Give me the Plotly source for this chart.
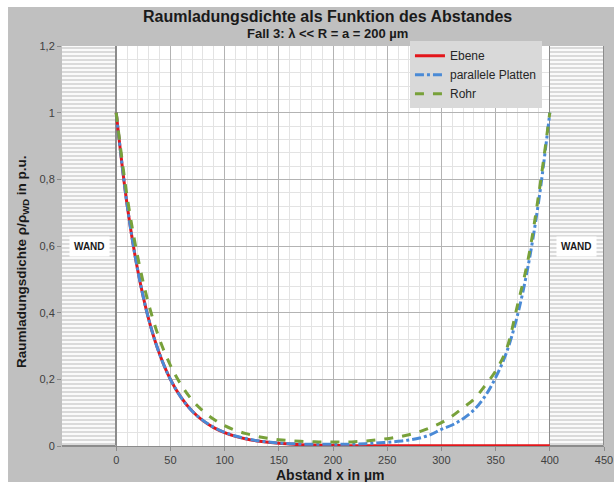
import plotly.graph_objects as go

# ---- data ----
x_um = [0, 10, 20, 30, 40, 50, 60, 70, 80, 90, 100, 110, 120, 130, 140, 150, 160, 170, 180, 190,
        200, 210, 220, 230, 240, 250, 260, 270, 280, 290, 300, 310, 320, 330, 340, 350, 360, 370,
        380, 390, 400]

ebene = [1.0, 0.725, 0.525, 0.38, 0.276, 0.2, 0.145, 0.105, 0.076, 0.055, 0.04, 0.029, 0.021,
         0.015, 0.011, 0.008, 0.006, 0.004, 0.003, 0.002, 0.002, 0.001, 0.001, 0.001, 0.001,
         0.001, 0.001, 0.001, 0.001, 0.001, 0.001, 0.001, 0.001, 0.001, 0.001, 0.001, 0.001,
         0.001, 0.001, 0.001, 0.001]

parallele_platten = [1.0, 0.725, 0.525, 0.38, 0.276, 0.2, 0.145, 0.105, 0.077, 0.056, 0.041,
                     0.03, 0.022, 0.016, 0.012, 0.009, 0.007, 0.006, 0.005, 0.005, 0.005, 0.005,
                     0.006, 0.007, 0.009, 0.011, 0.014, 0.018, 0.024, 0.034, 0.05, 0.063, 0.082,
                     0.108, 0.148, 0.205, 0.28, 0.39, 0.54, 0.74, 1.0]

rohr = [1.0, 0.75, 0.565, 0.425, 0.32, 0.242, 0.183, 0.138, 0.105, 0.08, 0.061, 0.047, 0.037,
        0.029, 0.023, 0.019, 0.016, 0.014, 0.013, 0.012, 0.012, 0.012, 0.013, 0.015, 0.018,
        0.022, 0.027, 0.034, 0.043, 0.055, 0.07, 0.09, 0.115, 0.14, 0.18, 0.225, 0.29, 0.42,
        0.56, 0.76, 1.0]

wall_x = [-25, 425]
wall_height = [1.2, 1.2]
wall_width = [50, 50]

x_tickvals = [0, 50, 100, 150, 200, 250, 300, 350, 400, 450]
x_ticktext = ["0", "50", "100", "150", "200", "250", "300", "350", "400", "450"]
y_tickvals = [0, 0.2, 0.4, 0.6, 0.8, 1.0, 1.2]
y_ticktext = ["0", "0,2", "0,4", "0,6", "0,8", "1", "1,2"]

FONT = "Liberation Sans, Arial, sans-serif"

fig = go.Figure()

# hatched wall regions
fig.add_trace(go.Bar(
    x=wall_x, y=wall_height, width=wall_width, base=0,
    marker=dict(color="white",
                line=dict(color="#8c8c8c", width=1),
                pattern=dict(shape="-", fgcolor="#a9a9a9", bgcolor="#fafafa", size=4, solidity=0.4)),
    showlegend=False, hoverinfo="skip"))

fig.add_trace(go.Scatter(x=x_um, y=ebene, name="Ebene", mode="lines",
                         line=dict(color="#e3161b", width=3, shape="spline")))
fig.add_trace(go.Scatter(x=x_um, y=parallele_platten, name="parallele Platten", mode="lines",
                         line=dict(color="#4a8ad6", width=3, dash="dashdot", shape="spline")))
fig.add_trace(go.Scatter(x=x_um, y=rohr, name="Rohr", mode="lines",
                         line=dict(color="#78a13a", width=3, dash="dash", shape="spline")))

fig.update_layout(
    width=614, height=482,
    margin=dict(l=62, r=10, t=46, b=36, autoexpand=False),
    paper_bgcolor="#c0c0c0",
    plot_bgcolor="white",
    font=dict(family=FONT, size=11, color="#404040"),
    barmode="overlay",
    bargap=0,
    legend=dict(x=0.642, y=1.012, xanchor="left", yanchor="top",
                bgcolor="#d9d9d9", borderwidth=0,
                font=dict(family=FONT, size=12, color="#262626"),
                tracegroupgap=0, itemwidth=30),
    xaxis=dict(range=[-50, 450], tickvals=x_tickvals, ticktext=x_ticktext,
               automargin=False,
               showgrid=True, gridcolor="#b3b3b3", gridwidth=1,
               minor=dict(dtick=10, tick0=0, showgrid=True, gridcolor="#e3e3e3", gridwidth=1),
               showline=True, linecolor="#8c8c8c", linewidth=1,
               ticks="outside", ticklen=4, tickcolor="#8c8c8c",
               zeroline=True, zerolinecolor="#8c8c8c", zerolinewidth=1,
               tickfont=dict(size=11, color="#404040")),
    yaxis=dict(range=[0, 1.2], tickvals=y_tickvals, ticktext=y_ticktext,
               automargin=False,
               showgrid=True, gridcolor="#b3b3b3", gridwidth=1,
               minor=dict(dtick=0.04, tick0=0, showgrid=True, gridcolor="#e3e3e3", gridwidth=1),
               showline=False, zeroline=False,
               ticks="outside", ticklen=4, tickcolor="#8c8c8c",
               tickfont=dict(size=11, color="#404040")),
    shapes=[
        dict(type="rect", xref="paper", yref="paper", x0=-0.2, x1=-0.0996, y0=-0.2, y1=1.3,
             fillcolor="white", line=dict(width=0), layer="above"),
        dict(type="rect", xref="paper", yref="paper", x0=-0.2, x1=1.1, y0=1.0975, y1=1.3,
             fillcolor="white", line=dict(width=0), layer="above"),
    ],
    annotations=[
        dict(text="<b>Raumladungsdichte als Funktion des Abstandes</b>",
             xref="paper", yref="paper", x=0.49, y=1.0725, xanchor="center", yanchor="middle",
             showarrow=False, font=dict(family=FONT, size=16, color="#1a1a1a")),
        dict(text="<b>Fall 3: λ &lt;&lt; R = a = 200 µm</b>",
             xref="paper", yref="paper", x=0.49, y=1.031, xanchor="center", yanchor="middle",
             showarrow=False, font=dict(family=FONT, size=13, color="#1a1a1a")),
        dict(text="<b>Abstand x in µm</b>",
             xref="paper", yref="paper", x=0.494, y=-0.072, xanchor="center", yanchor="middle",
             showarrow=False, font=dict(family=FONT, size=14, color="#1a1a1a")),
        dict(text="<b>Raumladungsdichte ρ/ρ<sub>WD</sub> in p.u.</b>",
             xref="paper", yref="paper", x=-0.074, y=0.46, xanchor="center", yanchor="middle",
             textangle=-90, showarrow=False, font=dict(family=FONT, size=13.5, color="#1a1a1a")),
        dict(text="<b>WAND</b>", x=-25, y=0.6, xref="x", yref="y", showarrow=False,
             bgcolor="white", borderpad=4, font=dict(family=FONT, size=10, color="#1a1a1a")),
        dict(text="<b>WAND</b>", x=425, y=0.6, xref="x", yref="y", showarrow=False,
             bgcolor="white", borderpad=4, font=dict(family=FONT, size=10, color="#1a1a1a")),
    ],
)

fig.write_html("out.html")
